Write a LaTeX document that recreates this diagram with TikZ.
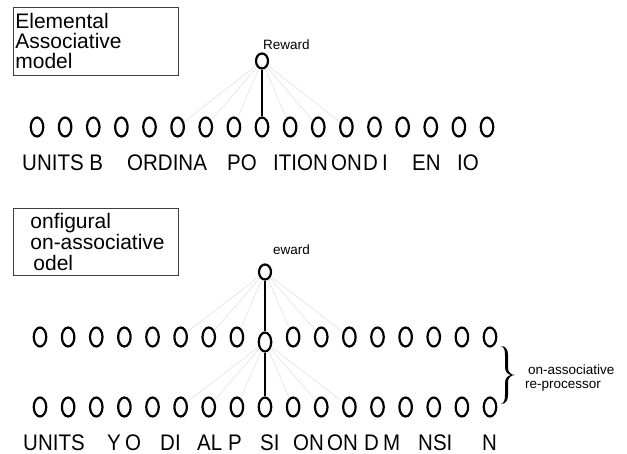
\documentclass[tikz,border=0pt]{standalone}
\usepackage{fontspec}
\setmainfont{Liberation Sans}
\usetikzlibrary{shapes.geometric}

\newcommand{\tallrow}[1]{\scalebox{1}[1.1]{#1}}

\tikzset{
    unit/.style={ellipse, draw, line width=2.2pt, minimum width=12.5pt,
        minimum height=19pt, inner sep=0pt},
    rewardunit/.style={unit, minimum width=12pt, minimum height=15pt},
    weak/.style={black!13, line width=0.5pt},
    strong/.style={line width=1.2pt},
    rowtext/.style={font=\fontsize{20.5}{20}\selectfont, inner sep=0pt, anchor=base west},
    smalltext/.style={font=\fontsize{13.5}{15}\selectfont, inner sep=0pt, anchor=base west},
    modelbox/.style={draw=black!75, line width=0.8pt, anchor=north west,
        inner xsep=2pt, text width=161pt, minimum height=68pt, align=left,
        font=\fontsize{21}{20}\selectfont}
}

\begin{document}
\begin{tikzpicture}[x=1pt, y=-1pt]
    \useasboundingbox (0,0) rectangle (627,454);
    % Boxes
    \node[modelbox] (box1) at (13,7) {Elemental\\Associative\\model};
    \node[modelbox, minimum height=67pt, font=\fontsize{21}{21}\selectfont] (box2) at (13,208)
        {\hspace*{15pt}onfigural\\\hspace*{15pt}on-associative\\\hspace*{18pt}odel};
    % Units
    \node[rewardunit] (r1) at (262,61) {};
    \node[rewardunit] (r2) at (265,272) {};
    \foreach \i in {1,...,17} {
        \node[unit] (t\i) at ({37+28.125*(\i-1)},127) {};
        \node[unit] (b\i) at ({40+28.125*(\i-1)},407) {};
    }
    \foreach \i in {1,...,8,10,11,...,17}
        \node[unit] (m\i) at ({40+28.125*(\i-1)},337) {};
    \node[unit] (m9) at (265,342) {};
    % Drawing
    \foreach \i in {6,7,8,10,11,12} {
        \draw[weak] (r1) -- (t\i);
        \draw[weak] (r2) -- (m\i);
        \draw[weak] (m9) -- (b\i);
    }
    \draw[strong] (r1) -- (t9);
    \draw[strong] (r2) -- (m9);
    \draw[strong] (m9) -- (b9);
    % Labels
    \node[smalltext] (rw1) at (263,50) {Reward};
    \node[smalltext] (rw2) at (273,255) {eward};
    \foreach \x/\t [count=\k] in {22/UNITS B, 127/ORDINA, 227/PO, 273/ITION,
        331/ON, 363/D, 382/I, 412/EN, 457/IO}
        \node[rowtext] (tl\k) at (\x,171) {\tallrow{\t}};
    \foreach \x/\t [count=\k] in {23/UNITS, 107/Y, 125/O, 160/DI, 197/AL, 228/P,
        260/SI, 293/ON, 327/ON, 364/D, 383/M, 418/NSI, 482/N}
        \node[rowtext] (bl\k) at (\x,450) {\tallrow{\t}};
    % Brace
    \fill[shift={(507,375)}] (-6,-29) .. controls (-1,-29) and (1,-25) .. (1,-20)
        -- (1,-7) .. controls (1,-3) and (4,0) .. (8,0)
        .. controls (4,0) and (1,3) .. (1,7) -- (1,20)
        .. controls (1,25) and (-1,29) .. (-6,29)
        .. controls (-3,28) and (-2,25) .. (-2,20) -- (-2,8)
        .. controls (-2,3) and (1,0.5) .. (4,0)
        .. controls (1,-0.5) and (-2,-3) .. (-2,-8) -- (-2,-20)
        .. controls (-2,-25) and (-3,-28) .. (-6,-29) -- cycle;
    \node[smalltext] (pre1) at (528,375) {on-associative};
    \node[smalltext] (pre2) at (525,389) {re-processor};
\end{tikzpicture}
\end{document}
